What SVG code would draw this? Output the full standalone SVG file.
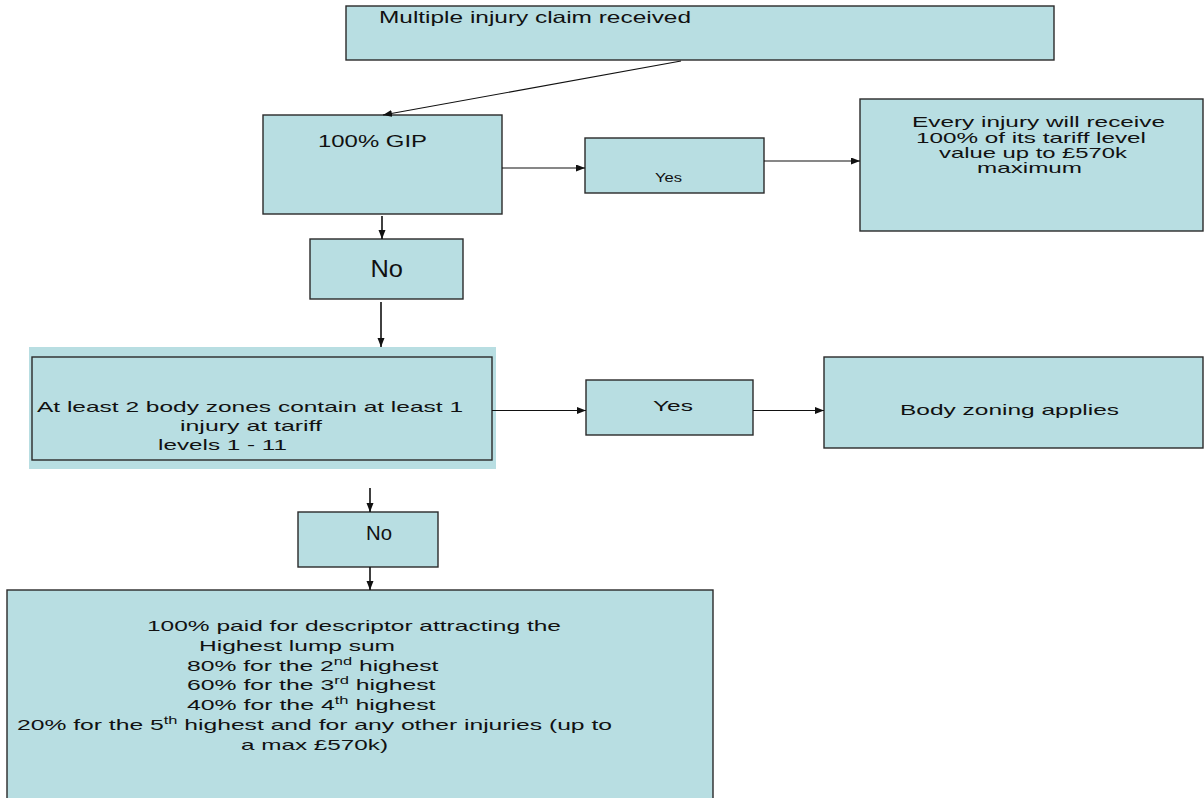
<svg xmlns="http://www.w3.org/2000/svg" width="1204" height="798" viewBox="0 0 1204 798">
<style>
.box{fill:#B8DEE2;stroke:#2a2a2a;stroke-width:1.4}
.bg{fill:#B8DEE2;stroke:none}
.t{font-family:"Liberation Sans",Arial,sans-serif;font-size:15px;fill:#111}
.c{stroke:#111;stroke-width:1.2;fill:none;marker-end:url(#ah)}
.v{stroke-width:1.6}
.sup{font-size:10px}
</style>
<defs>
<marker id="ah" markerUnits="userSpaceOnUse" markerWidth="10" markerHeight="8" refX="9" refY="3.5" orient="auto">
<path d="M0,0 L9,3.5 L0,7 z" fill="#111"/>
</marker>
</defs>
<rect x="0" y="0" width="1204" height="798" fill="#fff"/>

<g id="n-claim">
<rect class="box" x="346" y="6" width="708" height="54"/>
<text class="t" x="379" y="22.5" style="font-size:16.5px" textLength="312" lengthAdjust="spacingAndGlyphs">Multiple injury claim received</text>
</g>

<g id="n-gip">
<rect class="box" x="263" y="115" width="239" height="99"/>
<text class="t" x="318" y="146.5" style="font-size:16px" textLength="109" lengthAdjust="spacingAndGlyphs">100% GIP</text>
</g>

<g id="n-yes1">
<rect class="box" x="585" y="138" width="179" height="55"/>
<text class="t" x="655" y="182" style="font-size:13px" textLength="27" lengthAdjust="spacingAndGlyphs">Yes</text>
</g>

<g id="n-every">
<rect class="box" x="860" y="99" width="343" height="132"/>
<text class="t" x="912" y="127" style="font-size:14.5px" textLength="253" lengthAdjust="spacingAndGlyphs">Every injury will receive</text>
<text class="t" x="916" y="142.5" style="font-size:14.5px" textLength="230" lengthAdjust="spacingAndGlyphs">100% of its tariff level</text>
<text class="t" x="939" y="158" style="font-size:14.5px" textLength="188" lengthAdjust="spacingAndGlyphs">value up to £570k</text>
<text class="t" x="977" y="173" style="font-size:14.5px" textLength="105" lengthAdjust="spacingAndGlyphs">maximum</text>
</g>

<g id="n-no1">
<rect class="box" x="310" y="239" width="153" height="60"/>
<text class="t" x="370.5" y="277" style="font-size:24px" textLength="32.5" lengthAdjust="spacingAndGlyphs">No</text>
</g>

<g id="n-zones">
<rect class="bg" x="29" y="347" width="467" height="122"/>
<rect class="box" x="32" y="357" width="460" height="103"/>
<text class="t" x="37" y="412" textLength="426" lengthAdjust="spacingAndGlyphs">At least 2 body zones contain at least 1</text>
<text class="t" x="180" y="431" textLength="142" lengthAdjust="spacingAndGlyphs">injury at tariff</text>
<text class="t" x="158" y="450" textLength="129" lengthAdjust="spacingAndGlyphs">levels 1 - 11</text>
</g>

<g id="n-yes2">
<rect class="box" x="586" y="380" width="167" height="55"/>
<text class="t" x="653" y="411" textLength="40" lengthAdjust="spacingAndGlyphs">Yes</text>
</g>

<g id="n-bodyzoning">
<rect class="box" x="824" y="357" width="379" height="91"/>
<text class="t" x="900" y="414.5" textLength="219" lengthAdjust="spacingAndGlyphs">Body zoning applies</text>
</g>

<g id="n-no2">
<rect class="box" x="298" y="512" width="140" height="55"/>
<text class="t" x="366" y="540" style="font-size:20px" textLength="26" lengthAdjust="spacingAndGlyphs">No</text>
</g>

<g id="n-result">
<rect class="box" x="7" y="590" width="706" height="215"/>
<text class="t" x="147" y="630.5" textLength="414" lengthAdjust="spacingAndGlyphs">100% paid for descriptor attracting the</text>
<text class="t" x="199" y="650.5" textLength="196" lengthAdjust="spacingAndGlyphs">Highest lump sum</text>
<text class="t" x="187" y="670.5" textLength="251.5" lengthAdjust="spacingAndGlyphs">80% for the 2<tspan class="sup" dy="-6">nd</tspan><tspan dy="6"> highest</tspan></text>
<text class="t" x="187" y="690" textLength="248.5" lengthAdjust="spacingAndGlyphs">60% for the 3<tspan class="sup" dy="-6">rd</tspan><tspan dy="6"> highest</tspan></text>
<text class="t" x="187" y="709.5" textLength="248.5" lengthAdjust="spacingAndGlyphs">40% for the 4<tspan class="sup" dy="-6">th</tspan><tspan dy="6"> highest</tspan></text>
<text class="t" x="17" y="730" textLength="595" lengthAdjust="spacingAndGlyphs">20% for the 5<tspan class="sup" dy="-6">th</tspan><tspan dy="6"> highest and for any other injuries (up to</tspan></text>
<text class="t" x="241" y="750" textLength="147" lengthAdjust="spacingAndGlyphs">a max £570k)</text>
</g>

<g id="connectors">
<line class="c" x1="681" y1="61" x2="383" y2="115"/>
<line class="c" x1="502" y1="168" x2="585" y2="168"/>
<line class="c" x1="764" y1="161" x2="860" y2="161"/>
<line class="c v" x1="382" y1="216" x2="382" y2="239"/>
<line class="c v" x1="381" y1="302" x2="381" y2="347"/>
<line class="c" x1="492" y1="410.5" x2="586" y2="410.5"/>
<line class="c" x1="753" y1="410.5" x2="824" y2="410.5"/>
<line class="c v" x1="370" y1="488" x2="370" y2="512"/>
<line class="c v" x1="370" y1="567" x2="370" y2="590"/>
</g>
</svg>
